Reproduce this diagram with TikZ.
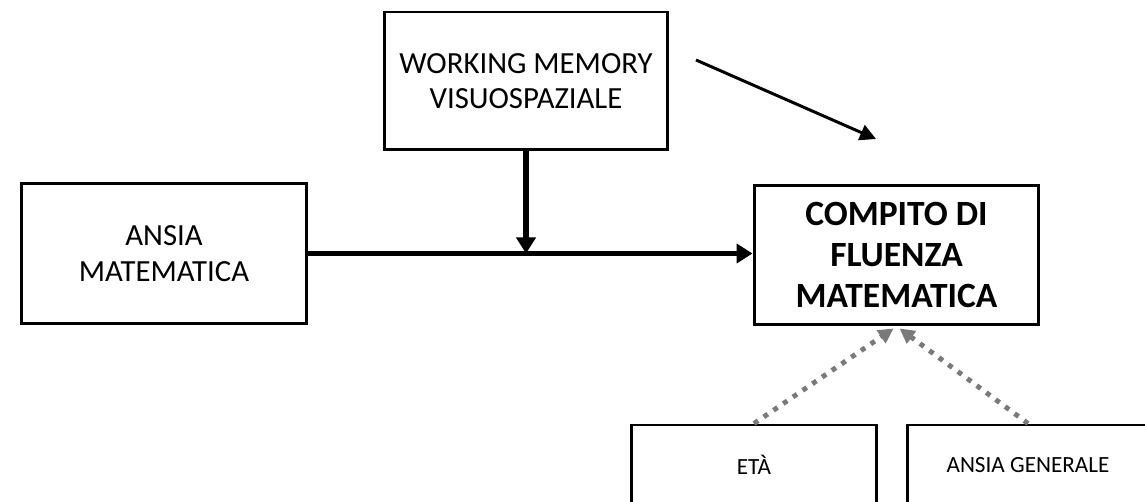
\documentclass[tikz,border=0pt]{standalone}
\usepackage{fontspec}
\setmainfont{Carlito}
\usetikzlibrary{arrows.meta,calc}
\definecolor{dotgray}{HTML}{7A7A7A}
\begin{document}
\begin{tikzpicture}[x=0.02cm,y=-0.02cm,
  box/.style={draw=black, line width=1.7pt, rectangle, inner sep=0pt, align=center},
  bigtext/.style={font=\fontsize{17.5}{20.2}\selectfont},
  boldtext/.style={font=\fontsize{20.2}{23.6}\selectfont\bfseries},
  smalltext/.style={font=\fontsize{13.2}{15}\selectfont},
  mainarrow/.style={line width=3.1pt, -{Triangle[length=0.32cm,width=0.38cm]}},
  thinarrow/.style={line width=1.7pt, -{Triangle[length=0.32cm,width=0.32cm]}},
  covarrow/.style={draw=dotgray, line width=2.8pt, dash pattern=on 2.8pt off 3.9pt,
    -{Triangle[length=0.3cm,width=0.3cm,fill=dotgray]}}]
\useasboundingbox (0,0) rectangle (1145,502);

% boxes
\node[box, bigtext, minimum width=5.68cm, minimum height=2.76cm] (wm) at (526,81)
  {WORKING MEMORY\\VISUOSPAZIALE};
\node[box, bigtext, minimum width=5.72cm, minimum height=2.82cm] (am) at (164,253.5)
  {ANSIA\\MATEMATICA};
\node[box, boldtext, minimum width=5.70cm, minimum height=2.80cm] (cf) at (896.5,255)
  {COMPITO DI\\FLUENZA\\MATEMATICA};
\node[box, smalltext, minimum width=4.92cm, minimum height=1.6cm] (eta) at (754,465)
  {ETÀ};
\node[box, smalltext, minimum width=4.84cm, minimum height=1.6cm] (ag) at (1028,465)
  {ANSIA GENERALE};

% main effect and moderation
\coordinate (join) at (wm.south |- am.east);
\draw[mainarrow] (am.east) -- (am.east -| cf.west);
\draw[mainarrow] (wm.south) -- (join);

% free arrow at the top right
\coordinate (d1) at (696,60);
\coordinate (d2) at (876,139);
\draw[thinarrow] (d1) -- (d2);

% covariates
\draw[covarrow] (eta.north) -- ($(cf.south)+(-3,2)$);
\draw[covarrow] (ag.north) -- ($(cf.south)+(3,2)$);
\end{tikzpicture}
\end{document}
